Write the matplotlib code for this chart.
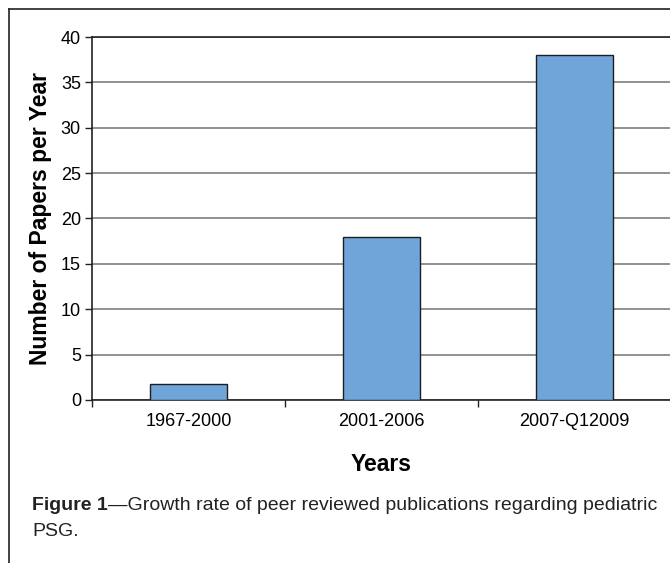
import matplotlib
matplotlib.use("Agg")
import matplotlib.pyplot as plt
from matplotlib.lines import Line2D

categories = ["1967-2000", "2001-2006", "2007-Q12009"]
papers_per_year = [1.8, 18, 38]
y_ticks = [0, 5, 10, 15, 20, 25, 30, 35, 40]

plt.rcParams['font.family'] = ['Liberation Sans', 'DejaVu Sans']

W, H = 670, 563
fig = plt.figure(figsize=(W / 100, H / 100), dpi=100)

# outer frame (top and left edges)
fig.add_artist(Line2D([9 / W, 9 / W], [0, 1 - 9 / H], color="#222222", lw=1.2,
                      transform=fig.transFigure))
fig.add_artist(Line2D([9 / W, 1], [1 - 9 / H, 1 - 9 / H], color="#222222", lw=1.2,
                      transform=fig.transFigure))

left, right, top, bottom = 92, 671, 37, 400
ax = fig.add_axes([left / W, 1 - bottom / H, (right - left) / W, (bottom - top) / H])

x = range(len(categories))
ax.bar(x, papers_per_year, width=0.4, color="#6fa5d9", edgecolor="#1e1e1e",
       linewidth=1.0, zorder=3)

ax.set_xlim(-0.5, len(categories) - 0.5)
ax.set_ylim(0, 40)
ax.set_yticks(y_ticks)
ax.yaxis.grid(True, color="#888888", linewidth=1.3, zorder=0)
ax.set_axisbelow(True)

# category ticks sit between groups
ax.set_xticks([i + 0.5 for i in range(len(categories) - 1)] + [-0.5])
ax.set_xticklabels([])
ax.set_xticks(list(x), minor=True)
ax.set_xticklabels(categories, minor=True, fontsize=13)
ax.tick_params(axis="x", which="minor", length=0, pad=9)
ax.tick_params(axis="x", which="major", length=5, width=1, color="#222222")
ax.tick_params(axis="y", length=5, width=1, color="#222222", labelsize=13, pad=3)

ax.spines["right"].set_visible(False)
for s in ["top", "left", "bottom"]:
    ax.spines[s].set_color("#222222")
    ax.spines[s].set_linewidth(1.2)

ax.set_ylabel("Number of Papers per Year", fontsize=16.5, fontweight="bold", labelpad=6)
ax.set_xlabel("Years", fontsize=16.5, fontweight="bold", labelpad=17)

# caption: bold lead-in followed by the regular text
cap_size = 14
t1 = fig.text(32 / W, 1 - 505 / H, "Figure 1", fontsize=cap_size, fontweight="bold",
              va="center", ha="left", color="#222222")
fig.canvas.draw()
bb = t1.get_window_extent()
fig.text(bb.x1 / W, 1 - 505 / H,
         "\u2014Growth rate of peer reviewed publications regarding pediatric",
         fontsize=cap_size, va="center", ha="left", color="#222222")
fig.text(32 / W, 1 - 532 / H, "PSG.", fontsize=cap_size, va="center", ha="left",
         color="#222222")

fig.savefig("out.png", dpi=100)
